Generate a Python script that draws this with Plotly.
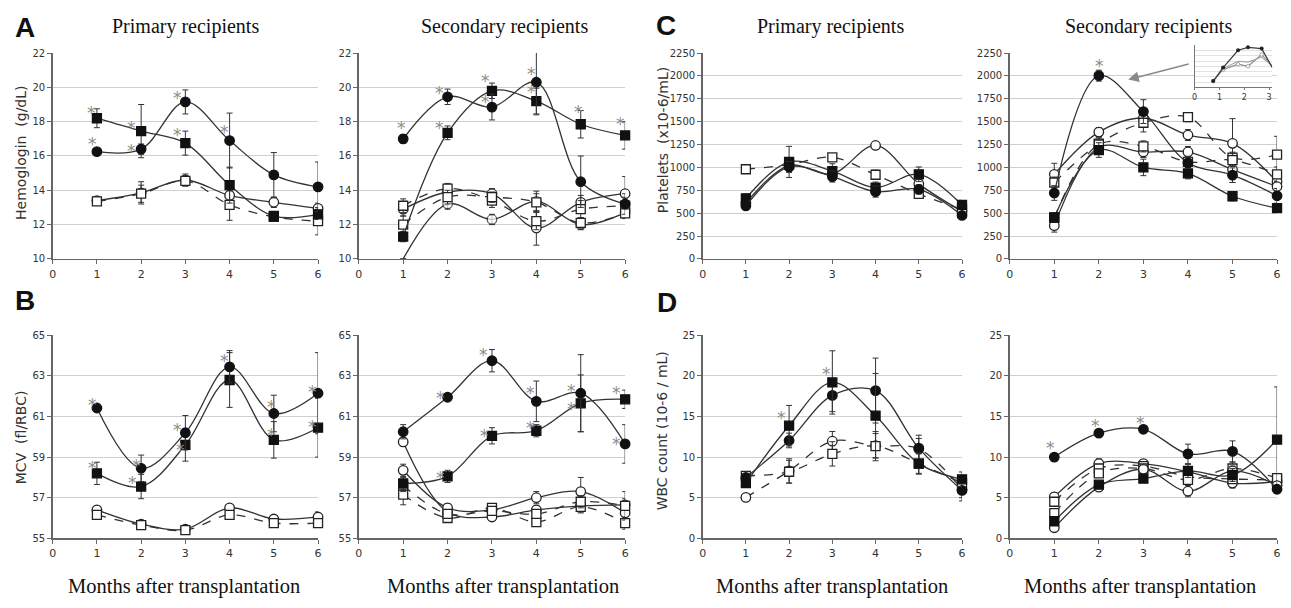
import plotly.graph_objects as go

# ---------------- data ----------------
months = [1, 2, 3, 4, 5, 6]
x_ticks = [0, 1, 2, 3, 4, 5, 6]

# A - Hemoglobin, primary recipients
hb_p_fc = [16.25, 16.4, 19.15, 16.9, 14.9, 14.2]
hb_p_fc_err = [0.1, 0.3, 0.7, 1.6, 1.3, 1.45]
hb_p_fs = [18.2, 17.45, 16.75, 14.3, 12.5, 12.6]
hb_p_fs_err = [0.55, 1.55, 0.7, 1.05, 0.25, 0.3]
hb_p_oc = [13.4, 13.85, 14.6, 13.7, 13.3, 12.95]
hb_p_oc_err = [0.15, 0.65, 0.35, 0.3, 0.3, 0.3]
hb_p_os = [13.35, 13.8, 14.55, 13.15, 12.45, 12.2]
hb_p_os_err = [0.1, 0.5, 0.3, 0.9, 0.25, 0.8]
hb_p_star_x = [0.87, 0.89, 1.78, 1.78, 2.82, 2.82, 3.89]
hb_p_star_y = [18.74, 16.93, 17.89, 16.55, 19.6, 17.45, 17.64]

# A - Hemoglobin, secondary recipients
hb_s_fc = [17.0, 19.45, 18.85, 20.3, 14.5, 13.2]
hb_s_fc_err = [0.25, 0.45, 0.75, 1.9, 1.5, 0.6]
hb_s_fs = [11.3, 17.35, 19.8, 19.2, 17.85, 17.2]
hb_s_fs_err = [0.3, 0.4, 0.45, 0.75, 0.8, 0.8]
hb_s_oc1 = [10.0, 13.2, 12.3, 13.35, 12.0, 12.7]
hb_s_oc1_err = [0.0, 0.3, 0.3, 0.6, 0.3, 0.3]
hb_s_oc2 = [12.9, 13.9, 13.8, 11.8, 13.3, 13.8]
hb_s_oc2_err = [0.4, 0.3, 0.3, 1.0, 0.4, 1.0]
hb_s_os1 = [13.1, 14.1, 13.4, 12.2, 12.9, 13.1]
hb_s_os1_err = [0.4, 0.3, 0.4, 0.5, 0.5, 0.5]
hb_s_os2 = [12.0, 13.6, 13.6, 13.3, 12.1, 12.65]
hb_s_os2_err = [0.5, 0.4, 0.3, 0.5, 0.3, 0.3]
hb_s_star_x = [0.97, 1.81, 1.81, 2.86, 2.86, 3.9, 3.9, 4.94, 5.89]
hb_s_star_y = [17.88, 19.88, 17.88, 20.59, 19.4, 21.03, 19.98, 18.8, 18.07]

# B - MCV, primary recipients
mcv_p_fc = [61.42, 58.45, 60.2, 63.45, 61.15, 62.15]
mcv_p_fc_err = [0.1, 0.65, 0.85, 0.8, 0.9, 2.0]
mcv_p_fs = [58.2, 57.55, 59.6, 62.8, 59.85, 60.45]
mcv_p_fs_err = [0.55, 0.6, 0.8, 1.35, 0.9, 1.45]
mcv_p_oc = [56.4, 55.7, 55.45, 56.5, 55.95, 56.05]
mcv_p_oc_err = [0.15, 0.15, 0.1, 0.15, 0.15, 0.25]
mcv_p_os = [56.15, 55.65, 55.4, 56.15, 55.75, 55.75]
mcv_p_os_err = [0.15, 0.15, 0.1, 0.15, 0.15, 0.2]
mcv_p_star_x = [0.91, 0.91, 1.89, 1.81, 2.83, 2.89, 3.89, 4.94, 4.94, 5.87, 5.87]
mcv_p_star_y = [61.79, 58.64, 58.77, 57.94, 60.54, 59.55, 63.91, 61.66, 60.3, 62.42, 60.67]

# B - MCV, secondary recipients
mcv_s_fc = [60.25, 61.95, 63.75, 61.75, 62.15, 59.65]
mcv_s_fc_err = [0.35, 0.1, 0.55, 1.0, 1.9, 0.95]
mcv_s_fs = [57.7, 58.05, 60.05, 60.3, 61.65, 61.85]
mcv_s_fs_err = [0.3, 0.3, 0.4, 0.3, 1.4, 0.45]
mcv_s_oc1 = [59.75, 56.3, 56.05, 56.4, 56.6, 56.65]
mcv_s_oc1_err = [0.2, 0.2, 0.15, 0.2, 0.3, 0.3]
mcv_s_oc2 = [58.35, 56.5, 56.4, 57.0, 57.3, 56.25]
mcv_s_oc2_err = [0.3, 0.2, 0.2, 0.3, 0.7, 0.4]
mcv_s_os1 = [57.15, 56.0, 56.5, 55.8, 56.55, 55.75]
mcv_s_os1_err = [0.5, 0.15, 0.15, 0.2, 0.3, 0.3]
mcv_s_os2 = [57.6, 56.2, 56.35, 56.2, 56.8, 56.6]
mcv_s_os2_err = [0.3, 0.2, 0.2, 0.2, 0.3, 0.7]
mcv_s_star_x = [1.84, 2.81, 3.87, 4.79, 5.8, 1.84, 2.83, 3.87, 4.79, 5.8]
mcv_s_star_y = [62.11, 64.23, 62.34, 62.47, 62.35, 58.18, 60.25, 60.62, 61.58, 59.85]

# C - Platelets, primary recipients
plt_p_fc = [580, 1005, 900, 735, 760, 475]
plt_p_fc_err = [40, 60, 60, 60, 50, 40]
plt_p_fs = [660, 1060, 960, 780, 925, 590]
plt_p_fs_err = [50, 170, 80, 60, 80, 50]
plt_p_oc = [610, 1020, 930, 1240, 820, 520]
plt_p_oc_err = [40, 60, 60, 40, 50, 40]
plt_p_os = [980, 1030, 1110, 920, 710, 540]
plt_p_os_err = [30, 50, 40, 50, 40, 40]

# C - Platelets, secondary recipients
plt_s_fc = [720, 2003, 1610, 1050, 915, 690]
plt_s_fc_err = [80, 60, 130, 60, 80, 80]
plt_s_fs = [455, 1190, 1000, 935, 685, 555]
plt_s_fs_err = [40, 80, 90, 60, 50, 40]
plt_s_oc1 = [925, 1386, 1540, 1354, 1263, 842]
plt_s_oc1_err = [120, 50, 100, 60, 270, 60]
plt_s_os1 = [835, 1259, 1488, 1550, 1107, 1140]
plt_s_os1_err = [60, 70, 100, 50, 60, 200]
plt_s_oc2 = [363, 1220, 1169, 1169, 976, 791]
plt_s_oc2_err = [70, 60, 60, 60, 140, 60]
plt_s_os2 = [450, 1250, 1230, 1060, 1080, 925]
plt_s_os2_err = [50, 60, 60, 60, 70, 80]
plt_s_star_x = [2.02]
plt_s_star_y = [2149]

# inset (C secondary)
inset_x = [0.75, 1.15, 1.75, 2.15, 2.7, 3.15]
inset_a = [0.15, 0.47, 0.88, 0.95, 0.92, 0.45]
inset_b = [0.15, 0.42, 0.55, 0.50, 0.78, 0.48]
inset_c = [0.15, 0.45, 0.62, 0.60, 0.72, 0.50]
inset_ticks = [0, 1, 2, 3]

# D - WBC, primary recipients
wbc_p_fc = [7.5, 12.05, 17.6, 18.2, 11.1, 5.9]
wbc_p_fc_err = [0.4, 0.9, 2.0, 4.0, 1.6, 1.3]
wbc_p_fs = [6.8, 13.87, 19.2, 15.1, 9.2, 7.27]
wbc_p_fs_err = [0.5, 2.5, 3.9, 5.2, 1.3, 0.9]
wbc_p_oc = [5.04, 8.3, 11.96, 11.4, 11.0, 6.0]
wbc_p_oc_err = [0.2, 1.5, 1.2, 1.5, 1.3, 1.0]
wbc_p_os = [7.7, 8.2, 10.4, 11.35, 9.2, 6.8]
wbc_p_os_err = [0.3, 1.4, 1.5, 1.8, 1.2, 0.8]
wbc_p_star_x = [1.82, 2.87]
wbc_p_star_y = [15.3, 20.75]

# D - WBC, secondary recipients
wbc_s_fc = [10.0, 12.95, 13.43, 10.4, 10.7, 6.04]
wbc_s_fc_err = [0.3, 0.4, 0.4, 1.2, 1.3, 0.5]
wbc_s_fs = [2.1, 6.6, 7.35, 8.3, 7.8, 12.15]
wbc_s_fs_err = [0.5, 0.4, 0.4, 0.8, 0.8, 6.5]
wbc_s_oc1 = [5.1, 9.2, 9.2, 8.2, 6.8, 7.0]
wbc_s_oc1_err = [0.5, 0.6, 0.5, 0.6, 0.6, 0.5]
wbc_s_os1 = [4.5, 8.6, 8.9, 7.6, 7.3, 7.2]
wbc_s_os1_err = [0.5, 0.5, 0.5, 0.5, 0.5, 0.5]
wbc_s_os2 = [3.1, 8.0, 8.6, 7.2, 8.6, 7.4]
wbc_s_os2_err = [0.5, 0.5, 0.5, 0.5, 0.8, 0.5]
wbc_s_oc2 = [1.3, 6.3, 8.5, 5.8, 8.3, 6.5]
wbc_s_oc2_err = [0.4, 0.4, 0.5, 0.7, 0.6, 0.5]
wbc_s_star_x = [0.91, 1.93, 2.94]
wbc_s_star_y = [11.6, 14.37, 14.65]

# ---------------- figure ----------------
W, H = 1291, 608
fig = go.Figure()

LINE_C = "#333333"
AX_C = "#666666"
GRID_C = "#cfcfcf"
STAR_C = "#8c8c8c"

ann = []


def series(ax, y, err, kind, sizes=None, symbol=None):
    filled = kind in ("fc", "fs")
    if symbol is None:
        symbol = "circle" if kind in ("fc", "oc") else "square"
    dash = "dash" if kind == "os" else "solid"
    size = sizes if sizes is not None else (9.5 if symbol == "circle" else 9)
    fig.add_trace(go.Scatter(
        x=months, y=y, mode="lines+markers",
        xaxis="x" + ax, yaxis="y" + ax,
        line=dict(color=LINE_C, width=1.3, shape="spline", smoothing=1.0, dash=dash),
        marker=dict(symbol=symbol, size=size,
                    color="#111111" if filled else "white",
                    line=dict(color="#111111" if filled else "#222222", width=1.3)),
        error_y=dict(type="data", array=err, color="#333333", thickness=1, width=3),
        cliponaxis=False, showlegend=False, hoverinfo="skip"))


def stars(ax, xs, ys):
    for xv, yv in zip(xs, ys):
        ann.append(dict(xref="x" + ax, yref="y" + ax, x=xv, y=yv, text="*",
                        showarrow=False, xanchor="center", yanchor="middle", yshift=-4,
                        font=dict(family="DejaVu Sans", size=17, color=STAR_C)))


# A primary (axis 1)
series("", hb_p_oc, hb_p_oc_err, "oc")
series("", hb_p_os, hb_p_os_err, "os")
series("", hb_p_fs, hb_p_fs_err, "fs")
series("", hb_p_fc, hb_p_fc_err, "fc")
stars("", hb_p_star_x, hb_p_star_y)

# A secondary (axis 2)
series("2", hb_s_oc1, hb_s_oc1_err, "oc", sizes=[0, 9.5, 9.5, 9.5, 9.5, 9.5])
series("2", hb_s_oc2, hb_s_oc2_err, "oc")
series("2", hb_s_os1, hb_s_os1_err, "os")
series("2", hb_s_os2, hb_s_os2_err, "os")
series("2", hb_s_fs, hb_s_fs_err, "fs")
series("2", hb_s_fc, hb_s_fc_err, "fc")
stars("2", hb_s_star_x, hb_s_star_y)

# C primary (axis 3)
series("3", plt_p_oc, plt_p_oc_err, "oc")
series("3", plt_p_os, plt_p_os_err, "os")
series("3", plt_p_fs, plt_p_fs_err, "fs")
series("3", plt_p_fc, plt_p_fc_err, "fc")

# C secondary (axis 4)
series("4", plt_s_oc1, plt_s_oc1_err, "oc")
series("4", plt_s_os1, plt_s_os1_err, "os")
series("4", plt_s_oc2, plt_s_oc2_err, "oc")
series("4", plt_s_os2, plt_s_os2_err, "os")
series("4", plt_s_fs, plt_s_fs_err, "fs")
series("4", plt_s_fc, plt_s_fc_err, "fc")
stars("4", plt_s_star_x, plt_s_star_y)

# B primary (axis 5)
series("5", mcv_p_oc, mcv_p_oc_err, "oc")
series("5", mcv_p_os, mcv_p_os_err, "os")
series("5", mcv_p_fs, mcv_p_fs_err, "fs")
series("5", mcv_p_fc, mcv_p_fc_err, "fc")
stars("5", mcv_p_star_x, mcv_p_star_y)

# B secondary (axis 6)
series("6", mcv_s_oc1, mcv_s_oc1_err, "oc")
series("6", mcv_s_oc2, mcv_s_oc2_err, "oc")
series("6", mcv_s_os1, mcv_s_os1_err, "os")
series("6", mcv_s_os2, mcv_s_os2_err, "os")
series("6", mcv_s_fs, mcv_s_fs_err, "fs")
series("6", mcv_s_fc, mcv_s_fc_err, "fc")
stars("6", mcv_s_star_x, mcv_s_star_y)

# D primary (axis 7)
series("7", wbc_p_oc, wbc_p_oc_err, "os", symbol="circle")
series("7", wbc_p_os, wbc_p_os_err, "os")
series("7", wbc_p_fc, wbc_p_fc_err, "fc")
series("7", wbc_p_fs, wbc_p_fs_err, "fs")
stars("7", wbc_p_star_x, wbc_p_star_y)

# D secondary (axis 8)
series("8", wbc_s_oc1, wbc_s_oc1_err, "oc")
series("8", wbc_s_os1, wbc_s_os1_err, "os")
series("8", wbc_s_os2, wbc_s_os2_err, "os")
series("8", wbc_s_oc2, wbc_s_oc2_err, "oc")
series("8", wbc_s_fs, wbc_s_fs_err, "fs")
series("8", wbc_s_fc, wbc_s_fc_err, "fc")
stars("8", wbc_s_star_x, wbc_s_star_y)

# inset (axis 9)
fig.add_trace(go.Scatter(x=inset_x, y=inset_b, mode="lines+markers", xaxis="x9", yaxis="y9",
                         line=dict(color="#8a8a8a", width=1.1),
                         marker=dict(size=3.5, color="white", line=dict(color="#8a8a8a", width=0.8)),
                         cliponaxis=False, showlegend=False, hoverinfo="skip"))
fig.add_trace(go.Scatter(x=inset_x, y=inset_c, mode="lines", xaxis="x9", yaxis="y9",
                         line=dict(color="#a5a5a5", width=1.1),
                         cliponaxis=False, showlegend=False, hoverinfo="skip"))
fig.add_trace(go.Scatter(x=inset_x, y=inset_a, mode="lines+markers", xaxis="x9", yaxis="y9",
                         line=dict(color="#3a3a3a", width=1.2), marker=dict(size=4, color="#222222"),
                         cliponaxis=False, showlegend=False, hoverinfo="skip"))
ann.append(dict(xref="x9", yref="y9", x=1.75, y=1.02, text="*", showarrow=False, yshift=-2,
                font=dict(family="DejaVu Sans", size=10, color="#555")))

# ---------------- axes ----------------
cols = [(49, 316), (357, 625), (703, 964), (1012, 1281)]
rows = [(48, 258), (336, 543)]


def xdom(c):
    return [cols[c][0] / W, cols[c][1] / W]


def ydom(r):
    return [1 - rows[r][1] / H, 1 - rows[r][0] / H]


panels = {
    "": (0, 0, [10, 22], 2),
    "2": (1, 0, [10, 22], 2),
    "3": (2, 0, [0, 2250], 250),
    "4": (3, 0, [0, 2250], 250),
    "5": (0, 1, [55, 65], 2),
    "6": (1, 1, [55, 65], 2),
    "7": (2, 1, [0, 25], 5),
    "8": (3, 1, [0, 25], 5),
}

layout = {}
for key, (c, r, yr, dt) in panels.items():
    layout["xaxis" + key] = dict(
        domain=xdom(c), range=[0, 6], tickvals=x_ticks, anchor="y" + key,
        showline=True, linecolor=AX_C, linewidth=1.5, ticks="outside", ticklen=4,
        tickcolor=AX_C, tickwidth=1, showgrid=False, zeroline=False,
        ticklabeloverflow="allow",
        tickfont=dict(family="DejaVu Sans", size=11, color="#333"), fixedrange=True)
    layout["yaxis" + key] = dict(
        domain=ydom(r), range=yr, dtick=dt, tick0=yr[0], anchor="x" + key,
        showline=True, linecolor=AX_C, linewidth=1.5, ticks="outside", ticklen=4,
        tickcolor=AX_C, tickwidth=1, showgrid=True, gridcolor=GRID_C, gridwidth=1,
        zeroline=False, ticklabeloverflow="allow",
        tickfont=dict(family="DejaVu Sans", size=10, color="#333"),
        fixedrange=True)

layout["xaxis9"] = dict(domain=[1198 / W, 1276 / W], range=[0, 3.12], tickvals=inset_ticks,
                        anchor="y9", showline=True, linecolor="#777", linewidth=1,
                        ticks="outside", ticklen=2, tickcolor="#777", showgrid=False,
                        zeroline=False, tickfont=dict(family="DejaVu Sans", size=8, color="#333"))
layout["yaxis9"] = dict(domain=[1 - 83 / H, 1 - 40 / H], range=[0, 1], dtick=0.125,
                        anchor="x9", showline=True, linecolor="#777", linewidth=1,
                        showticklabels=False, showgrid=True, gridcolor="#e2e2e2",
                        zeroline=False)

fig.update_layout(**layout)

# ---------------- text ----------------


def txt(x, y, s, size, family, color="#111", angle=0, bold=False):
    ann.append(dict(xref="paper", yref="paper", x=x / W, y=1 - y / H, text=("<b>%s</b>" % s) if bold else s,
                    showarrow=False, textangle=angle, xanchor="center", yanchor="middle",
                    font=dict(size=size, family=family, color=color)))


SERIF = "Liberation Serif"
for (cx, cy, s) in [(183, 21, "Primary recipients"), (504, 21, "Secondary recipients"),
                    (832, 21, "Primary recipients"), (1152, 21, "Secondary recipients")]:
    txt(cx, cy, s, 20, SERIF)
for cx in [181, 502, 833, 1143]:
    txt(cx, 592, "Months after transplantation", 20.5, SERIF)

for (cx, cy, s) in [(21, 22, "A"), (21, 300, "B"), (666, 20, "C"), (667, 302, "D")]:
    txt(cx, cy, s, 28, "Liberation Sans", bold=True)

txt(17, 150, "Hemoglogin  (g/dL)", 14, "DejaVu Sans", "#333", -90)
txt(17, 440, "MCV  (fl/RBC)", 14, "DejaVu Sans", "#333", -90)
txt(663, 137, "Platelets  (x10-6/mL)", 14, "DejaVu Sans", "#333", -90)
txt(663, 433, "WBC count (10-6 / mL)", 14, "DejaVu Sans", "#333", -90)

ann.append(dict(xref="x4", yref="y4", axref="x4", ayref="y4", x=2.66, y=1960, ax=4.05, ay=2135,
                showarrow=True, arrowhead=2, arrowsize=1.4, arrowwidth=1.5, arrowcolor="#8a8a8a",
                text=""))

fig.update_layout(annotations=ann, width=W, height=H, margin=dict(l=0, r=0, t=0, b=0),
                  paper_bgcolor="white", plot_bgcolor="white", showlegend=False)

fig.write_html("out.html", config={"displayModeBar": False, "staticPlot": True},
               post_script="document.body.style.margin='0';document.body.style.overflow='hidden';")
